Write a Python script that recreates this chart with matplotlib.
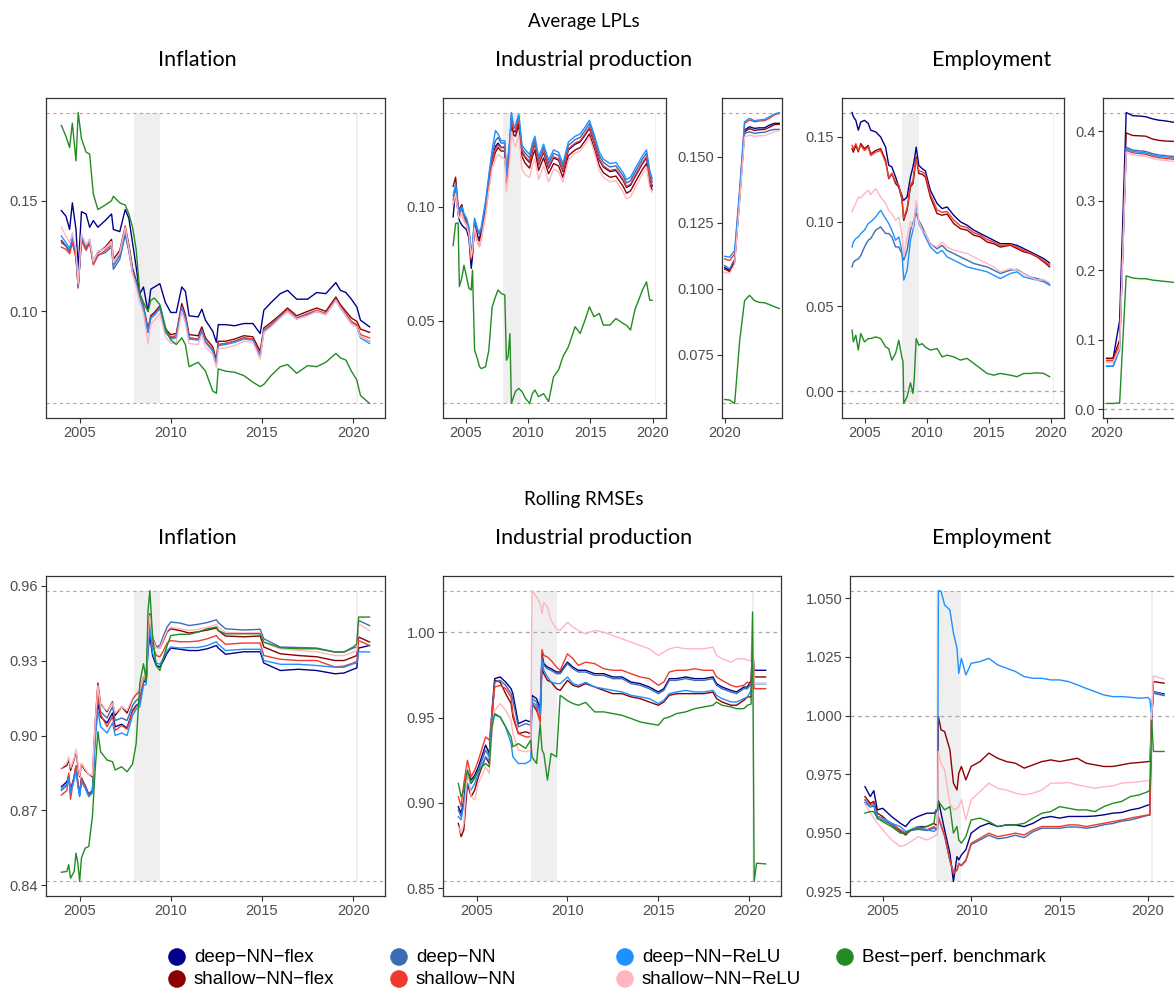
import numpy as np
import matplotlib
matplotlib.use("Agg")
import matplotlib.pyplot as plt
from matplotlib.ticker import FormatStrFormatter

# ---------------- Average LPLs: inflation ----------------
inf_lpl_t = [2004.0, 2004.25, 2004.45, 2004.6, 2004.8, 2004.92, 2005.1, 2005.35, 2005.55, 2005.75,
             2006.0, 2006.4, 2006.75, 2006.85, 2007.2, 2007.5, 2007.7, 2007.9, 2008.1, 2008.3,
             2008.5, 2008.75, 2008.9, 2009.1, 2009.4, 2009.7, 2010.0, 2010.3, 2010.6, 2010.8,
             2011.0, 2011.5, 2011.7, 2011.9, 2012.3, 2012.5, 2012.6, 2013.0, 2013.5, 2014.0,
             2014.5, 2014.9, 2015.1, 2015.5, 2016.0, 2016.4, 2016.9, 2017.5, 2018.0, 2018.5,
             2019.05, 2019.3, 2019.6, 2019.9, 2020.2, 2020.4, 2020.9]
inf_lpl_dnnf = [0.1455, 0.143, 0.137, 0.149, 0.137, 0.119, 0.145, 0.144, 0.138, 0.141,
                0.138, 0.141, 0.144, 0.137, 0.136, 0.146, 0.142, 0.131, 0.120, 0.108,
                0.111, 0.100, 0.110, 0.111, 0.1125, 0.104, 0.0995, 0.0995, 0.111, 0.109,
                0.098, 0.0975, 0.101, 0.096, 0.091, 0.086, 0.094, 0.094, 0.0935, 0.0945,
                0.0945, 0.090, 0.1005, 0.104, 0.108, 0.1095, 0.1055, 0.1055, 0.1085, 0.108,
                0.113, 0.1095, 0.1085, 0.1055, 0.102, 0.096, 0.093]
inf_lpl_snnf = [0.132, 0.1295, 0.127, 0.132, 0.125, 0.111, 0.133, 0.128, 0.1315, 0.122,
                0.1265, 0.129, 0.1325, 0.1235, 0.1275, 0.1385, 0.130, 0.1195, 0.114, 0.108,
                0.1025, 0.092, 0.098, 0.0995, 0.1025, 0.092, 0.0895, 0.090, 0.1035, 0.0985,
                0.0895, 0.089, 0.093, 0.088, 0.084, 0.078, 0.0865, 0.0865, 0.0875, 0.089,
                0.0885, 0.082, 0.0925, 0.095, 0.0985, 0.1015, 0.098, 0.100, 0.1015, 0.100,
                0.1065, 0.103, 0.100, 0.097, 0.0955, 0.092, 0.0905]
inf_lpl_dnn = [0.131, 0.1295, 0.127, 0.1325, 0.1255, 0.1115, 0.133, 0.1285, 0.131, 0.1215,
               0.1255, 0.1265, 0.129, 0.119, 0.1235, 0.1345, 0.127, 0.1175, 0.1125, 0.1065,
               0.1015, 0.0905, 0.097, 0.0985, 0.1015, 0.091, 0.088, 0.0885, 0.102, 0.097,
               0.088, 0.0875, 0.0915, 0.0865, 0.0825, 0.0765, 0.085, 0.0855, 0.0865, 0.088,
               0.0875, 0.080, 0.091, 0.0935, 0.0975, 0.1005, 0.097, 0.0985, 0.100, 0.099,
               0.1055, 0.102, 0.0985, 0.095, 0.0935, 0.0885, 0.0865]
inf_lpl_snn = [0.129, 0.128, 0.126, 0.131, 0.124, 0.1105, 0.132, 0.1275, 0.131, 0.121,
               0.125, 0.1275, 0.130, 0.121, 0.1255, 0.137, 0.128, 0.118, 0.1125, 0.1065,
               0.1015, 0.0905, 0.097, 0.0985, 0.1015, 0.091, 0.0885, 0.089, 0.102, 0.097,
               0.088, 0.0875, 0.0915, 0.0865, 0.0825, 0.0765, 0.085, 0.0855, 0.0865, 0.088,
               0.0875, 0.0805, 0.0915, 0.094, 0.098, 0.1005, 0.097, 0.099, 0.1005, 0.099,
               0.1055, 0.102, 0.099, 0.0955, 0.094, 0.0895, 0.088]
inf_lpl_relu = [0.134, 0.131, 0.1285, 0.1335, 0.127, 0.1115, 0.134, 0.1295, 0.1325, 0.1225,
                0.127, 0.1285, 0.1315, 0.1205, 0.125, 0.1365, 0.1285, 0.118, 0.113, 0.107,
                0.1015, 0.0905, 0.097, 0.0985, 0.1015, 0.0905, 0.0875, 0.088, 0.1015, 0.0965,
                0.0875, 0.087, 0.091, 0.086, 0.082, 0.0765, 0.0845, 0.085, 0.086, 0.0875,
                0.087, 0.0795, 0.091, 0.0935, 0.0975, 0.100, 0.0965, 0.0985, 0.100, 0.0985,
                0.105, 0.1015, 0.098, 0.0945, 0.093, 0.088, 0.0855]
inf_lpl_srelu = [0.138, 0.134, 0.131, 0.1355, 0.128, 0.1125, 0.135, 0.130, 0.1325, 0.1225,
                 0.127, 0.1285, 0.1315, 0.122, 0.1265, 0.138, 0.1285, 0.117, 0.111, 0.104,
                 0.099, 0.0855, 0.094, 0.096, 0.099, 0.0885, 0.0855, 0.086, 0.100, 0.0945,
                 0.0855, 0.085, 0.0895, 0.084, 0.0805, 0.0745, 0.083, 0.0835, 0.0845, 0.0865,
                 0.086, 0.0785, 0.0905, 0.093, 0.097, 0.100, 0.0965, 0.098, 0.100, 0.0985,
                 0.105, 0.1015, 0.098, 0.0945, 0.093, 0.0885, 0.0865]
inf_lpl_bench = [0.184, 0.179, 0.174, 0.185, 0.168, 0.1898, 0.178, 0.172, 0.171, 0.153,
                 0.146, 0.148, 0.150, 0.152, 0.149, 0.148, 0.144, 0.138, 0.128, 0.108,
                 0.104, 0.100, 0.105, 0.106, 0.103, 0.093, 0.087, 0.085, 0.088, 0.085,
                 0.075, 0.077, 0.075, 0.073, 0.064, 0.063, 0.074, 0.073, 0.0725, 0.071,
                 0.068, 0.066, 0.067, 0.071, 0.075, 0.076, 0.072, 0.0755, 0.075, 0.077,
                 0.081, 0.079, 0.078, 0.073, 0.069, 0.062, 0.0584]

# ---------------- Average LPLs: industrial production ----------------
ip_lpl_t = [2004.0, 2004.2, 2004.4, 2004.5, 2004.7, 2004.87, 2005.08, 2005.27, 2005.45, 2005.55,
            2005.72, 2005.98, 2006.1, 2006.25, 2006.6, 2006.86, 2007.13, 2007.39, 2007.6, 2007.85,
            2008.14, 2008.27, 2008.4, 2008.55, 2008.67, 2008.85, 2009.0, 2009.26, 2009.52, 2009.79,
            2010.13, 2010.35, 2010.55, 2010.85, 2011.25, 2011.65, 2012.05, 2012.45, 2012.8, 2013.24,
            2013.78, 2014.18, 2014.57, 2014.92, 2015.29, 2015.72, 2016.04, 2016.57, 2017.05, 2017.63,
            2017.9, 2018.22, 2018.56, 2019.18, 2019.5, 2019.76, 2019.95]
ip_lpl_dnnf = [0.0956, 0.108, 0.097, 0.094, 0.092, 0.091, 0.090, 0.086, 0.073, 0.078,
               0.092, 0.087, 0.086, 0.089, 0.100, 0.111, 0.121, 0.1265, 0.128, 0.126,
               0.126, 0.1115, 0.119, 0.127, 0.139, 0.133, 0.133, 0.138, 0.124, 0.1215,
               0.1195, 0.1245, 0.1275, 0.1185, 0.124, 0.117, 0.1215, 0.1205, 0.1155, 0.125,
               0.1275, 0.1285, 0.1315, 0.1345, 0.1285, 0.1205, 0.1175, 0.1155, 0.116, 0.1115,
               0.1085, 0.1095, 0.113, 0.119, 0.1215, 0.1125, 0.109]
ip_lpl_snnf = [0.109, 0.113, 0.100, 0.099, 0.101, 0.096, 0.093, 0.089, 0.077, 0.080,
               0.091, 0.086, 0.085, 0.088, 0.098, 0.109, 0.119, 0.124, 0.126, 0.1245,
               0.1245, 0.110, 0.1175, 0.125, 0.137, 0.1315, 0.131, 0.136, 0.122, 0.119,
               0.117, 0.122, 0.125, 0.116, 0.1215, 0.1145, 0.119, 0.118, 0.113, 0.1225,
               0.125, 0.126, 0.129, 0.132, 0.126, 0.118, 0.115, 0.113, 0.1135, 0.109,
               0.106, 0.107, 0.1105, 0.1165, 0.119, 0.110, 0.1075]
ip_lpl_dnn = [0.103, 0.109, 0.099, 0.097, 0.099, 0.096, 0.094, 0.090, 0.079, 0.083,
              0.094, 0.089, 0.088, 0.090, 0.1015, 0.1125, 0.1235, 0.129, 0.1305, 0.128,
              0.128, 0.1135, 0.121, 0.129, 0.1405, 0.1345, 0.135, 0.140, 0.1255, 0.1235,
              0.1215, 0.1265, 0.1295, 0.1205, 0.126, 0.119, 0.1235, 0.1225, 0.1175, 0.127,
              0.1295, 0.1305, 0.1335, 0.1365, 0.1305, 0.1225, 0.1195, 0.1175, 0.118, 0.1135,
              0.1105, 0.1115, 0.115, 0.121, 0.1235, 0.1145, 0.111]
ip_lpl_snn = [0.101, 0.105, 0.098, 0.096, 0.097, 0.094, 0.092, 0.088, 0.077, 0.081,
              0.090, 0.084, 0.0825, 0.086, 0.097, 0.109, 0.120, 0.1255, 0.127, 0.126,
              0.1265, 0.112, 0.1195, 0.1275, 0.1395, 0.1335, 0.1335, 0.1385, 0.1245, 0.122,
              0.120, 0.125, 0.128, 0.119, 0.1245, 0.1175, 0.122, 0.121, 0.116, 0.1255,
              0.128, 0.129, 0.132, 0.135, 0.129, 0.121, 0.118, 0.116, 0.1165, 0.112,
              0.109, 0.110, 0.1135, 0.1195, 0.122, 0.113, 0.1095]
ip_lpl_relu = [0.105, 0.110, 0.100, 0.098, 0.100, 0.097, 0.095, 0.091, 0.080, 0.084,
               0.095, 0.090, 0.089, 0.091, 0.1025, 0.114, 0.125, 0.1335, 0.132, 0.129,
               0.129, 0.1145, 0.122, 0.130, 0.1414, 0.1355, 0.136, 0.1405, 0.127, 0.125,
               0.123, 0.128, 0.131, 0.122, 0.1275, 0.1205, 0.125, 0.124, 0.119, 0.1285,
               0.131, 0.132, 0.135, 0.138, 0.132, 0.124, 0.121, 0.119, 0.1195, 0.115,
               0.112, 0.113, 0.1165, 0.1225, 0.125, 0.116, 0.1125]
ip_lpl_srelu = [0.101, 0.106, 0.097, 0.095, 0.097, 0.094, 0.092, 0.088, 0.078, 0.081,
                0.091, 0.084, 0.0825, 0.086, 0.0965, 0.107, 0.117, 0.121, 0.123, 0.122,
                0.121, 0.1065, 0.113, 0.121, 0.133, 0.128, 0.1265, 0.1315, 0.1165, 0.114,
                0.113, 0.118, 0.121, 0.112, 0.118, 0.111, 0.1165, 0.1155, 0.111, 0.1205,
                0.1235, 0.1245, 0.1275, 0.1305, 0.1245, 0.116, 0.113, 0.111, 0.1115, 0.1065,
                0.1035, 0.1045, 0.108, 0.1145, 0.1175, 0.1085, 0.1065]
ip_lpl_bench = [0.083, 0.0927, 0.093, 0.065, 0.069, 0.0744, 0.069, 0.0642, 0.0635, 0.0722,
                0.0371, 0.0327, 0.030, 0.029, 0.0298, 0.0371, 0.0561, 0.0605, 0.0635, 0.062,
                0.0613, 0.0327, 0.0342, 0.0444, 0.0137, 0.0167, 0.019, 0.0203, 0.0189, 0.016,
                0.0137, 0.018, 0.0196, 0.0167, 0.018, 0.0145, 0.0254, 0.0284, 0.0342, 0.0386,
                0.0474, 0.0444, 0.0503, 0.0561, 0.0518, 0.0532, 0.0481, 0.0481, 0.051, 0.0488,
                0.048, 0.0459, 0.0547, 0.0635, 0.0671, 0.059, 0.059]

# 2020 months (side panels)
covid_t = 2020 + np.arange(12) / 12
ip_cov_dnnf = [0.108, 0.1069, 0.1107, 0.135, 0.1602, 0.1614, 0.1608, 0.161, 0.161, 0.162, 0.1627, 0.1627]
ip_cov_snnf = [0.1075, 0.1065, 0.110, 0.134, 0.1595, 0.1607, 0.160, 0.1603, 0.1604, 0.1612, 0.1622, 0.1624]
ip_cov_dnn = [0.1088, 0.1075, 0.1112, 0.134, 0.1589, 0.1595, 0.1589, 0.1592, 0.1593, 0.160, 0.1604, 0.1604]
ip_cov_snn = [0.1113, 0.1107, 0.1132, 0.1365, 0.1627, 0.164, 0.1633, 0.1636, 0.1637, 0.1646, 0.1659, 0.1665]
ip_cov_relu = [0.1123, 0.112, 0.1145, 0.1373, 0.1633, 0.1646, 0.1637, 0.164, 0.1642, 0.1652, 0.1662, 0.1668]
ip_cov_srelu = [0.1062, 0.1058, 0.1093, 0.133, 0.1576, 0.1582, 0.1578, 0.158, 0.158, 0.1588, 0.1595, 0.160]
ip_cov_bench = [0.058, 0.0578, 0.0565, 0.080, 0.0955, 0.0975, 0.0955, 0.0948, 0.0947, 0.094, 0.0932, 0.0925]

# ---------------- Average LPLs: employment ----------------
emp_lpl_t = [2004.0, 2004.1, 2004.3, 2004.5, 2004.7, 2005.0, 2005.3, 2005.5, 2005.9, 2006.3,
             2006.7, 2006.95, 2007.2, 2007.5, 2007.76, 2008.0, 2008.1, 2008.16, 2008.43, 2008.7,
             2008.9, 2009.0, 2009.16, 2009.37, 2009.64, 2009.9, 2010.3, 2010.84, 2011.25, 2011.65,
             2012.18, 2012.72, 2013.26, 2013.8, 2014.33, 2014.87, 2015.4, 2015.94, 2016.74, 2017.28,
             2017.82, 2018.35, 2018.89, 2019.43, 2019.9]
emp_lpl_dnnf = [0.1644, 0.162, 0.1598, 0.154, 0.1588, 0.1598, 0.158, 0.154, 0.153, 0.150,
                0.144, 0.1333, 0.1323, 0.1264, 0.1205, 0.1156, 0.113, 0.1126, 0.1146, 0.1264,
                0.1323, 0.136, 0.144, 0.1333, 0.1313, 0.130, 0.1185, 0.1107, 0.1077, 0.1087,
                0.1038, 0.0999, 0.0979, 0.095, 0.093, 0.091, 0.089, 0.087, 0.087, 0.086,
                0.0841, 0.0822, 0.0802, 0.0782, 0.0757]
emp_lpl_snnf = [0.1431, 0.141, 0.145, 0.1412, 0.1461, 0.1431, 0.145, 0.140, 0.142, 0.1431,
                0.1362, 0.1254, 0.1284, 0.1225, 0.1205, 0.1136, 0.106, 0.1008, 0.1067, 0.1205,
                0.1225, 0.128, 0.1382, 0.1284, 0.128, 0.1264, 0.1146, 0.1048, 0.1038, 0.1045,
                0.0989, 0.0959, 0.095, 0.092, 0.091, 0.088, 0.087, 0.085, 0.0861, 0.0841,
                0.0822, 0.0812, 0.0792, 0.0763, 0.0733]
emp_lpl_dnn = [0.0733, 0.076, 0.0773, 0.078, 0.080, 0.0851, 0.089, 0.090, 0.095, 0.0969,
               0.093, 0.093, 0.091, 0.0851, 0.0851, 0.0812, 0.079, 0.0773, 0.083, 0.095,
               0.099, 0.102, 0.1048, 0.1008, 0.097, 0.093, 0.087, 0.084, 0.086, 0.083,
               0.0812, 0.0792, 0.0773, 0.0753, 0.0743, 0.0733, 0.0714, 0.0694, 0.0714, 0.0718,
               0.0694, 0.0674, 0.0664, 0.0655, 0.0629]
emp_lpl_snn = [0.145, 0.143, 0.146, 0.142, 0.145, 0.142, 0.144, 0.139, 0.141, 0.142,
               0.135, 0.126, 0.1285, 0.1235, 0.1215, 0.1145, 0.107, 0.102, 0.108, 0.122,
               0.124, 0.130, 0.1375, 0.130, 0.1295, 0.128, 0.116, 0.107, 0.1055, 0.106,
               0.101, 0.0975, 0.0965, 0.0935, 0.092, 0.0895, 0.088, 0.086, 0.0865, 0.085,
               0.083, 0.0815, 0.0795, 0.077, 0.0745]
emp_lpl_relu = [0.0851, 0.088, 0.090, 0.091, 0.093, 0.095, 0.0989, 0.0999, 0.1028, 0.1067,
                0.1018, 0.0989, 0.095, 0.089, 0.091, 0.0832, 0.072, 0.0655, 0.0714, 0.089,
                0.095, 0.098, 0.111, 0.0989, 0.095, 0.091, 0.0851, 0.0812, 0.083, 0.0792,
                0.0773, 0.0753, 0.0733, 0.0723, 0.0714, 0.0704, 0.0684, 0.0664, 0.0694, 0.0704,
                0.0674, 0.0664, 0.0655, 0.0645, 0.0625]
emp_lpl_srelu = [0.1058, 0.108, 0.1107, 0.1146, 0.114, 0.1166, 0.1185, 0.116, 0.1195, 0.1146,
                 0.1107, 0.1067, 0.1048, 0.1008, 0.1028, 0.093, 0.085, 0.0792, 0.091, 0.100,
                 0.096, 0.102, 0.1126, 0.100, 0.095, 0.093, 0.087, 0.085, 0.088, 0.085,
                 0.0832, 0.0822, 0.0812, 0.0792, 0.0773, 0.0753, 0.0733, 0.0704, 0.0723, 0.0714,
                 0.0694, 0.0674, 0.0655, 0.0658, 0.0639]
emp_lpl_bench = [0.036, 0.0291, 0.033, 0.0242, 0.034, 0.029, 0.031, 0.031, 0.032, 0.031,
                 0.0261, 0.025, 0.0183, 0.0222, 0.030, 0.0202, 0.0173, -0.0073, -0.0033, 0.0049,
                 -0.0014, 0.0065, 0.031, 0.0271, 0.028, 0.026, 0.0242, 0.0251, 0.0202, 0.0212,
                 0.0202, 0.0183, 0.0193, 0.0163, 0.0134, 0.0104, 0.0094, 0.0104, 0.0094, 0.0085,
                 0.0104, 0.0104, 0.0108, 0.0104, 0.0085]

emp_cov_dnnf = [0.0735, 0.0735, 0.128, 0.427, 0.4225, 0.422, 0.421, 0.418, 0.416, 0.415, 0.4134, 0.4125]
emp_cov_snnf = [0.073, 0.073, 0.100, 0.3976, 0.394, 0.3935, 0.393, 0.389, 0.387, 0.386, 0.3856, 0.385]
emp_cov_dnn = [0.062, 0.062, 0.090, 0.377, 0.373, 0.372, 0.371, 0.368, 0.366, 0.365, 0.364, 0.363]
emp_cov_snn = [0.070, 0.070, 0.092, 0.3726, 0.369, 0.368, 0.367, 0.364, 0.362, 0.361, 0.360, 0.359]
emp_cov_relu = [0.062, 0.062, 0.085, 0.375, 0.371, 0.370, 0.369, 0.366, 0.364, 0.363, 0.362, 0.361]
emp_cov_srelu = [0.068, 0.068, 0.088, 0.370, 0.366, 0.365, 0.364, 0.361, 0.359, 0.358, 0.357, 0.356]
emp_cov_bench = [0.0085, 0.0085, 0.0095, 0.192, 0.189, 0.188, 0.188, 0.186, 0.185, 0.184, 0.183, 0.182]

# ---------------- Rolling RMSEs: inflation ----------------
inf_rmse_t = [2004.0, 2004.3, 2004.4, 2004.5, 2004.7, 2004.8, 2004.9, 2005.0, 2005.1, 2005.3,
              2005.5, 2005.7, 2005.85, 2006.0, 2006.15, 2006.5, 2006.8, 2006.95, 2007.3, 2007.6,
              2007.9, 2008.1, 2008.3, 2008.5, 2008.65, 2008.75, 2008.85, 2009.0, 2009.2, 2009.4,
              2009.6, 2009.8, 2010.0, 2010.5, 2011.0, 2011.5, 2012.0, 2012.5, 2012.6, 2013.0,
              2014.0, 2014.9, 2015.1, 2016.0, 2017.0, 2018.0, 2019.0, 2019.5, 2020.0, 2020.2,
              2020.3, 2020.9]
inf_rmse_dnnf = [0.8795, 0.8815, 0.884, 0.878, 0.8835, 0.8875, 0.881, 0.8765, 0.883, 0.880,
                 0.8765, 0.878, 0.900, 0.913, 0.9075, 0.905, 0.909, 0.9035, 0.9045, 0.903,
                 0.910, 0.912, 0.913, 0.9215, 0.9215, 0.934, 0.940, 0.932, 0.928, 0.9274,
                 0.930, 0.933, 0.935, 0.9345, 0.934, 0.934, 0.9347, 0.936, 0.935, 0.9325,
                 0.9335, 0.9335, 0.929, 0.926, 0.9265, 0.926, 0.9247, 0.925, 0.9265, 0.927,
                 0.935, 0.936]
inf_rmse_snnf = [0.8868, 0.888, 0.8905, 0.886, 0.8905, 0.8935, 0.888, 0.8835, 0.8885, 0.886,
                 0.8845, 0.8835, 0.905, 0.921, 0.9125, 0.9095, 0.9135, 0.908, 0.9115, 0.909,
                 0.9145, 0.9165, 0.918, 0.9235, 0.9235, 0.940, 0.9487, 0.939, 0.9355, 0.935,
                 0.938, 0.9415, 0.9427, 0.942, 0.941, 0.9415, 0.9422, 0.943, 0.942, 0.9398,
                 0.9395, 0.9398, 0.9354, 0.9327, 0.932, 0.9315, 0.930, 0.930, 0.9314, 0.932,
                 0.9394, 0.9374]
inf_rmse_dnn = [0.8785, 0.8805, 0.8835, 0.8775, 0.883, 0.887, 0.8805, 0.876, 0.882, 0.8795,
                0.876, 0.8775, 0.902, 0.9155, 0.9095, 0.907, 0.9115, 0.906, 0.907, 0.906,
                0.912, 0.914, 0.915, 0.922, 0.922, 0.939, 0.9465, 0.939, 0.9355, 0.936,
                0.940, 0.9435, 0.9454, 0.945, 0.944, 0.9445, 0.9452, 0.9463, 0.9452, 0.9427,
                0.9422, 0.9425, 0.9387, 0.9354, 0.9352, 0.935, 0.9334, 0.9334, 0.935, 0.9354,
                0.946, 0.944]
inf_rmse_snn = [0.8762, 0.878, 0.885, 0.8745, 0.884, 0.888, 0.8815, 0.877, 0.883, 0.8795,
                0.876, 0.8775, 0.901, 0.916, 0.9085, 0.9035, 0.9075, 0.902, 0.904, 0.9025,
                0.9095, 0.9115, 0.913, 0.9225, 0.9225, 0.938, 0.945, 0.936, 0.932, 0.9315,
                0.934, 0.937, 0.938, 0.9375, 0.9375, 0.9378, 0.9387, 0.940, 0.939, 0.9365,
                0.937, 0.937, 0.932, 0.9305, 0.930, 0.930, 0.9274, 0.9278, 0.929, 0.9297,
                0.938, 0.936]
inf_rmse_relu = [0.878, 0.880, 0.883, 0.877, 0.882, 0.886, 0.880, 0.8755, 0.8815, 0.879,
                 0.8755, 0.877, 0.898, 0.910, 0.9035, 0.901, 0.905, 0.900, 0.901, 0.900,
                 0.908, 0.9105, 0.9115, 0.920, 0.9205, 0.935, 0.943, 0.933, 0.929, 0.9285,
                 0.931, 0.934, 0.9354, 0.935, 0.9352, 0.9352, 0.936, 0.9375, 0.9365, 0.934,
                 0.9345, 0.9345, 0.930, 0.9285, 0.9285, 0.928, 0.9273, 0.9273, 0.9287, 0.929,
                 0.9335, 0.9334]
inf_rmse_srelu = [0.887, 0.889, 0.8915, 0.887, 0.891, 0.8945, 0.889, 0.884, 0.889, 0.8865,
                  0.8845, 0.884, 0.905, 0.920, 0.912, 0.910, 0.913, 0.909, 0.9115, 0.910,
                  0.915, 0.917, 0.918, 0.9235, 0.9235, 0.941, 0.948, 0.9385, 0.935, 0.935,
                  0.9385, 0.942, 0.9433, 0.9428, 0.942, 0.9425, 0.9433, 0.9445, 0.9433, 0.9413,
                  0.941, 0.9413, 0.9372, 0.9347, 0.934, 0.9335, 0.932, 0.932, 0.9334, 0.934,
                  0.9447, 0.942]
inf_rmse_bench = [0.8453, 0.8456, 0.8483, 0.8429, 0.8456, 0.8529, 0.849, 0.8416, 0.851, 0.8549,
                  0.8556, 0.8675, 0.8862, 0.9015, 0.8935, 0.8902, 0.8895, 0.8862, 0.8875, 0.8855,
                  0.8885, 0.8968, 0.921, 0.9287, 0.922, 0.950, 0.958, 0.9394, 0.928, 0.926,
                  0.9314, 0.936, 0.940, 0.9405, 0.9405, 0.9414, 0.9427, 0.9434, 0.942, 0.9407,
                  0.9407, 0.9407, 0.9374, 0.9351, 0.9347, 0.9347, 0.9334, 0.9334, 0.9354, 0.9367,
                  0.9474, 0.9474]

# ---------------- Rolling RMSEs: industrial production ----------------
ip_rmse_t = [2004.0, 2004.15, 2004.3, 2004.5, 2004.7, 2004.9, 2005.1, 2005.5, 2005.7, 2005.85,
             2006.0, 2006.3, 2006.6, 2006.9, 2007.0, 2007.3, 2007.7, 2007.98, 2008.05, 2008.3,
             2008.5, 2008.6, 2008.7, 2008.9, 2009.1, 2009.4, 2009.6, 2010.0, 2010.3, 2010.6,
             2011.0, 2011.5, 2012.0, 2012.5, 2013.0, 2013.5, 2014.0, 2014.5, 2015.0, 2015.3,
             2015.6, 2016.0, 2016.5, 2017.0, 2017.5, 2018.0, 2018.2, 2018.5, 2019.0, 2019.3,
             2019.7, 2019.9, 2020.1, 2020.18, 2020.27, 2020.4, 2020.9]
ip_rmse_dnnf = [0.8978, 0.8939, 0.9017, 0.9192, 0.9134, 0.9163, 0.9212, 0.9339, 0.929, 0.9543,
                0.9729, 0.9739, 0.9709, 0.967, 0.9641, 0.9465, 0.9485, 0.9475, 0.9631, 0.9612,
                0.9553, 0.9875, 0.9817, 0.9797, 0.9787, 0.9768, 0.9768, 0.9826, 0.9797, 0.9778,
                0.9778, 0.9758, 0.9758, 0.9739, 0.9739, 0.9709, 0.970, 0.968, 0.9651, 0.967,
                0.9729, 0.9729, 0.9739, 0.9729, 0.9729, 0.9739, 0.970, 0.968, 0.966, 0.9651,
                0.968, 0.968, 0.9719, 0.9914, 0.9778, 0.9778, 0.9778]
ip_rmse_snnf = [0.888, 0.8802, 0.8841, 0.9114, 0.9036, 0.9075, 0.9153, 0.927, 0.9231, 0.9485,
                0.9719, 0.9709, 0.9641, 0.9583, 0.9504, 0.9407, 0.9417, 0.9407, 0.9583, 0.9543,
                0.9485, 0.9797, 0.9758, 0.9719, 0.9709, 0.967, 0.966, 0.9719, 0.969, 0.968,
                0.970, 0.968, 0.966, 0.9641, 0.9641, 0.9622, 0.9612, 0.9592, 0.9573, 0.9592,
                0.9631, 0.9641, 0.9641, 0.9641, 0.9641, 0.965, 0.9612, 0.9592, 0.9573, 0.9573,
                0.9602, 0.9622, 0.9622, 0.9885, 0.9739, 0.9739, 0.9739]
ip_rmse_dnn = [0.8958, 0.8919, 0.8997, 0.9173, 0.9114, 0.9144, 0.9192, 0.9309, 0.927, 0.9524,
               0.9709, 0.9719, 0.969, 0.9641, 0.9602, 0.9446, 0.9465, 0.9456, 0.9612, 0.9592,
               0.9534, 0.9856, 0.9807, 0.9787, 0.9778, 0.9758, 0.9758, 0.9817, 0.9787, 0.9768,
               0.9768, 0.9748, 0.9748, 0.9729, 0.9729, 0.970, 0.969, 0.967, 0.9641, 0.966,
               0.9719, 0.9719, 0.9729, 0.9719, 0.9719, 0.9729, 0.969, 0.967, 0.965, 0.9641,
               0.967, 0.967, 0.970, 0.985, 0.970, 0.970, 0.970]
ip_rmse_snn = [0.9036, 0.8978, 0.9114, 0.925, 0.9153, 0.9192, 0.925, 0.9387, 0.9368, 0.9524,
               0.968, 0.969, 0.967, 0.962, 0.9524, 0.9407, 0.9387, 0.9387, 0.958, 0.956,
               0.947, 0.990, 0.9865, 0.9856, 0.9836, 0.9797, 0.9778, 0.9875, 0.9846, 0.9807,
               0.9826, 0.9817, 0.9787, 0.9778, 0.9778, 0.9758, 0.9739, 0.9729, 0.969, 0.9709,
               0.9768, 0.9778, 0.9778, 0.9787, 0.9778, 0.9778, 0.9739, 0.9719, 0.969, 0.968,
               0.969, 0.9709, 0.969, 0.994, 0.967, 0.967, 0.967]
ip_rmse_relu = [0.8919, 0.890, 0.8997, 0.9114, 0.9075, 0.9114, 0.9173, 0.927, 0.925, 0.9504,
                0.9514, 0.9504, 0.9446, 0.9348, 0.927, 0.9231, 0.9231, 0.925, 0.9592, 0.9573,
                0.9524, 0.9836, 0.9778, 0.9739, 0.9709, 0.970, 0.970, 0.9739, 0.970, 0.969,
                0.9707, 0.968, 0.967, 0.966, 0.9651, 0.9631, 0.9622, 0.9612, 0.9583, 0.9602,
                0.9641, 0.9651, 0.966, 0.9651, 0.9651, 0.966, 0.9631, 0.9612, 0.9592, 0.9592,
                0.9612, 0.9622, 0.966, 0.9778, 0.970, 0.970, 0.970]
ip_rmse_srelu = [0.8861, 0.8822, 0.888, 0.9212, 0.9036, 0.9017, 0.9114, 0.9212, 0.9173, 0.9426,
                 0.9543, 0.9583, 0.9543, 0.9485, 0.9407, 0.9309, 0.930, 0.9309, 1.0246, 1.0207,
                 1.0168, 1.0109, 1.0178, 1.0148, 1.007, 1.0021, 1.0012, 1.006, 1.0031, 1.0012,
                 0.9992, 1.0012, 1.0002, 0.9982, 0.9963, 0.9943, 0.9924, 0.9904, 0.9865, 0.9885,
                 0.9904, 0.9914, 0.9904, 0.9904, 0.9904, 0.9914, 0.9865, 0.9846, 0.9826, 0.9846,
                 0.9846, 0.9836, 0.9836, 1.007, 0.970, 0.970, 0.970]
ip_rmse_bench = [0.9114, 0.9036, 0.9075, 0.9192, 0.9114, 0.9153, 0.9192, 0.9231, 0.9212, 0.9446,
                 0.9524, 0.9504, 0.9446, 0.9387, 0.9329, 0.9348, 0.932, 0.9368, 0.927, 0.9231,
                 0.9465, 0.931, 0.929, 0.9134, 0.929, 0.927, 0.9631, 0.960, 0.9583, 0.9573,
                 0.959, 0.9534, 0.9534, 0.9524, 0.9514, 0.9495, 0.9475, 0.9465, 0.9456, 0.9495,
                 0.9504, 0.9524, 0.9534, 0.9553, 0.9563, 0.9573, 0.9592, 0.9573, 0.9563, 0.9553,
                 0.9553, 0.9573, 0.958, 1.012, 0.8539, 0.8646, 0.8642]

# ---------------- Rolling RMSEs: employment ----------------
emp_rmse_t = [2004.0, 2004.3, 2004.5, 2004.7, 2005.0, 2005.5, 2006.0, 2006.3, 2006.6, 2007.0,
              2007.5, 2007.9, 2008.0, 2008.1, 2008.15, 2008.3, 2008.5, 2008.8, 2009.0, 2009.2,
              2009.3, 2009.45, 2009.7, 2010.0, 2010.5, 2011.0, 2011.5, 2012.0, 2012.5, 2013.0,
              2013.5, 2014.0, 2014.5, 2015.0, 2015.5, 2016.0, 2016.5, 2017.0, 2017.5, 2018.0,
              2018.5, 2019.0, 2019.5, 2020.0, 2020.1, 2020.2, 2020.3, 2020.9]
emp_rmse_dnnf = [0.9697, 0.9655, 0.968, 0.9598, 0.9605, 0.957, 0.9541, 0.9527, 0.9555, 0.957,
                 0.9584, 0.9584, 0.9591, 0.9591, 0.964, 0.9584, 0.9513, 0.9413, 0.9293, 0.9399,
                 0.9385, 0.9406, 0.9428, 0.9499, 0.9527, 0.9541, 0.9527, 0.9534, 0.9534, 0.9527,
                 0.9541, 0.9563, 0.957, 0.9563, 0.957, 0.957, 0.957, 0.9572, 0.9577, 0.9584,
                 0.9587, 0.9598, 0.9605, 0.9619, 0.9619, 1.000, 1.0102, 1.0092]
emp_rmse_snnf = [0.9655, 0.9626, 0.9634, 0.9584, 0.957, 0.9534, 0.9506, 0.9491, 0.9513, 0.9527,
                 0.9527, 0.9541, 0.9534, 0.9534, 0.9996, 0.9939, 0.9932, 0.9854, 0.9712, 0.9683,
                 0.9754, 0.9783, 0.9726, 0.9783, 0.9804, 0.984, 0.9818, 0.9804, 0.9797, 0.9776,
                 0.979, 0.9804, 0.9811, 0.9804, 0.9811, 0.9818, 0.9797, 0.979, 0.9783, 0.9783,
                 0.979, 0.9797, 0.980, 0.9804, 0.9804, 0.9996, 1.0145, 1.0138]
emp_rmse_dnn = [0.963, 0.961, 0.9615, 0.956, 0.9555, 0.9535, 0.951, 0.9495, 0.951, 0.9515,
                0.951, 0.952, 0.9515, 0.9515, 0.9565, 0.953, 0.9485, 0.938, 0.9335, 0.934,
                0.9365, 0.936, 0.938, 0.945, 0.947, 0.949, 0.9475, 0.948, 0.949, 0.948,
                0.9505, 0.952, 0.952, 0.952, 0.9525, 0.9525, 0.952, 0.9525, 0.9535, 0.954,
                0.955, 0.9555, 0.9565, 0.9575, 0.9575, 1.000, 1.0095, 1.0085]
emp_rmse_snn = [0.964, 0.9619, 0.9626, 0.957, 0.9563, 0.9541, 0.9513, 0.9499, 0.9513, 0.952,
                0.9513, 0.9527, 0.952, 0.952, 0.957, 0.9534, 0.9491, 0.9385, 0.9325, 0.9342,
                0.937, 0.9363, 0.9385, 0.9456, 0.9477, 0.9499, 0.9484, 0.9491, 0.9499, 0.9491,
                0.9513, 0.9527, 0.9527, 0.9527, 0.9534, 0.9534, 0.9527, 0.9534, 0.9541, 0.9548,
                0.9555, 0.9563, 0.957, 0.9577, 0.9577, 1.000, 1.0098, 1.0088]
emp_rmse_relu = [0.9641, 0.9612, 0.9619, 0.957, 0.9563, 0.9541, 0.9527, 0.9506, 0.9513, 0.9527,
                 0.9513, 0.9506, 0.9513, 0.9513, 1.0533, 1.053, 1.0472, 1.045, 1.0351, 1.0287,
                 1.018, 1.0244, 1.0173, 1.0223, 1.023, 1.0244, 1.0216, 1.0202, 1.0188, 1.0166,
                 1.0159, 1.0159, 1.0152, 1.0152, 1.0145, 1.0131, 1.0116, 1.0102, 1.0088, 1.0081,
                 1.0081, 1.0078, 1.0074, 1.0077, 1.0067, 1.000, 1.0102, 1.0088]
emp_rmse_srelu = [0.9626, 0.9584, 0.9563, 0.9541, 0.9513, 0.947, 0.9442, 0.9449, 0.9463, 0.9484,
                  0.947, 0.9484, 0.9491, 0.9491, 0.9847, 0.9797, 0.9768, 0.9626, 0.9598, 0.9605,
                  0.9612, 0.9641, 0.9555, 0.9641, 0.9676, 0.9712, 0.969, 0.9683, 0.9669, 0.9662,
                  0.9669, 0.9683, 0.9712, 0.9712, 0.9715, 0.9705, 0.9697, 0.969, 0.9697, 0.970,
                  0.9712, 0.9715, 0.9718, 0.9723, 0.9726, 1.000, 1.0169, 1.0155]
emp_rmse_bench = [0.9584, 0.9591, 0.9591, 0.9563, 0.9548, 0.9527, 0.9499, 0.9499, 0.9513, 0.952,
                  0.9527, 0.9541, 0.9598, 0.9598, 0.9634, 0.9619, 0.9598, 0.9612, 0.9499, 0.9527,
                  0.947, 0.9456, 0.9484, 0.9555, 0.9563, 0.9548, 0.9527, 0.9534, 0.9534, 0.9541,
                  0.9563, 0.9584, 0.9591, 0.9612, 0.9605, 0.9598, 0.9598, 0.9591, 0.9612, 0.9626,
                  0.9634, 0.9655, 0.9662, 0.9676, 0.9683, 0.998, 0.9847, 0.9847]

# recession bands (decimal years)
recessions = [(2008.0, 2009.42), (2020.15, 2020.25)]

labels = ['deep−NN−flex', 'shallow−NN−flex', 'deep−NN', 'shallow−NN',
          'deep−NN−ReLU', 'shallow−NN−ReLU', 'Best−perf. benchmark']
colors = ['#00008B', '#8B0000', '#3C6DB4', '#EE3B2E', '#1E90FF', '#FFB6C1', '#228B22']

W, H = 1174, 988
plt.rcParams['font.family'] = ['Liberation Sans', 'DejaVu Sans']
fig = plt.figure(figsize=(W / 100, H / 100), dpi=100)


def add_panel(box, t, series, yticks, fmt, ref, xticks=(2005, 2010, 2015, 2020), bands=True):
    l, top, r, b = box
    ax = fig.add_axes([l / W, 1 - b / H, (r - l) / W, (b - top) / H])
    allv = np.concatenate([np.asarray(s, float) for s in series])
    lo, hi = allv.min(), allv.max()
    pad = 0.05 * (hi - lo)
    x0, x1 = t[0], t[-1]
    if bands:
        x1 = max(x1, recessions[-1][1])
    xp = 0.05 * (x1 - x0)
    ax.set_xlim(x0 - xp, x1 + xp)
    ax.set_ylim(lo - pad, hi + pad)
    if bands:
        for a, c in recessions:
            ax.fill_between([a, c], lo, hi, color='#EFEFEF', lw=0, zorder=0)
    # dashed guides at the panel's extremes and at the reference level
    for v in (lo, hi):
        ax.axhline(v, color='#F28B8B', lw=0.8, dashes=(3, 3), zorder=1)
    if lo - pad < ref < hi + pad:
        ax.axhline(ref, color='#A6A6A6', lw=0.9, dashes=(3, 3), zorder=1)
    for s, c in zip(series, colors):
        ax.plot(t, s, color=c, lw=1.0, zorder=2)
    ax.set_xticks(list(xticks))
    ax.set_yticks(yticks)
    ax.yaxis.set_major_formatter(FormatStrFormatter(fmt))
    ax.xaxis.set_major_formatter(FormatStrFormatter('%d'))
    ax.tick_params(direction='out', length=3.5, width=0.8, color='#333333',
                   labelcolor='#4D4D4D', labelsize=10.5, pad=2)
    for sp in ax.spines.values():
        sp.set_color('#333333')
        sp.set_linewidth(0.9)
    return ax


# top row: average LPLs
add_panel((46, 98, 385, 418), inf_lpl_t,
          [inf_lpl_dnnf, inf_lpl_snnf, inf_lpl_dnn, inf_lpl_snn, inf_lpl_relu, inf_lpl_srelu, inf_lpl_bench],
          [0.10, 0.15], '%.2f', 0.0)
add_panel((443, 98, 666, 418), ip_lpl_t,
          [ip_lpl_dnnf, ip_lpl_snnf, ip_lpl_dnn, ip_lpl_snn, ip_lpl_relu, ip_lpl_srelu, ip_lpl_bench],
          [0.05, 0.10], '%.2f', 0.0)
add_panel((722, 98, 782, 418), covid_t,
          [ip_cov_dnnf, ip_cov_snnf, ip_cov_dnn, ip_cov_snn, ip_cov_relu, ip_cov_srelu, ip_cov_bench],
          [0.075, 0.100, 0.125, 0.150], '%.3f', 0.0, xticks=(2020,), bands=False)
add_panel((842, 98, 1064, 418), emp_lpl_t,
          [emp_lpl_dnnf, emp_lpl_snnf, emp_lpl_dnn, emp_lpl_snn, emp_lpl_relu, emp_lpl_srelu, emp_lpl_bench],
          [0.00, 0.05, 0.10, 0.15], '%.2f', 0.0)
add_panel((1103, 98, 1182, 418), covid_t,
          [emp_cov_dnnf, emp_cov_snnf, emp_cov_dnn, emp_cov_snn, emp_cov_relu, emp_cov_srelu, emp_cov_bench],
          [0.0, 0.1, 0.2, 0.3, 0.4], '%.1f', 0.0, xticks=(2020,), bands=False)

# bottom row: rolling RMSEs
add_panel((46, 576, 385, 896), inf_rmse_t,
          [inf_rmse_dnnf, inf_rmse_snnf, inf_rmse_dnn, inf_rmse_snn, inf_rmse_relu, inf_rmse_srelu, inf_rmse_bench],
          [0.84, 0.87, 0.90, 0.93, 0.96], '%.2f', 1.0)
add_panel((443, 576, 781, 896), ip_rmse_t,
          [ip_rmse_dnnf, ip_rmse_snnf, ip_rmse_dnn, ip_rmse_snn, ip_rmse_relu, ip_rmse_srelu, ip_rmse_bench],
          [0.85, 0.90, 0.95, 1.00], '%.2f', 1.0)
add_panel((850, 576, 1179, 896), emp_rmse_t,
          [emp_rmse_dnnf, emp_rmse_snnf, emp_rmse_dnn, emp_rmse_snn, emp_rmse_relu, emp_rmse_srelu, emp_rmse_bench],
          [0.925, 0.950, 0.975, 1.000, 1.025, 1.050], '%.3f', 1.0)

# titles
head = dict(family=['Lato', 'DejaVu Sans'], color='black', ha='center', va='center')
fig.text(584 / W, 1 - 21 / H, 'Average LPLs', fontsize=13.5, **head)
fig.text(584 / W, 1 - 499 / H, 'Rolling RMSEs', fontsize=13.5, **head)
for y in (60, 538):
    for x, name in zip((197, 594, 992), ('Inflation', 'Industrial production', 'Employment')):
        fig.text(x / W, 1 - y / H, name, fontsize=15.5, **head)

# legend, laid out in a 4 x 2 grid
leg = fig.add_axes([0, 0, 1, 1], zorder=-1)
leg.set_xlim(0, W)
leg.set_ylim(H, 0)
leg.axis('off')
leg_cols = [177, 399, 625, 845]
leg_rows = [957, 979]
slots = [(0, 0), (0, 1), (1, 0), (1, 1), (2, 0), (2, 1), (3, 0)]
for (ci, ri), lab, c in zip(slots, labels, colors):
    leg.scatter([leg_cols[ci]], [leg_rows[ri]], s=160, color=c, edgecolors='none')
    leg.text(leg_cols[ci] + 17, leg_rows[ri], lab, fontsize=13.5, va='center', ha='left', color='black')

fig.savefig('out.png', dpi=100)
